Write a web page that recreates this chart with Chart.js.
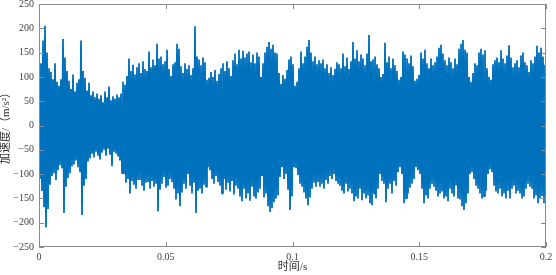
<!DOCTYPE html>
<html>
<head>
<meta charset="utf-8">
<script src="https://cdn.jsdelivr.net/npm/chart.js@4.4.1/dist/chart.umd.min.js"></script>
<style>
  html, body { margin: 0; padding: 0; background: #fff; }
  #wrap { width: 556px; height: 275px; }
</style>
</head>
<body>
<div id="wrap"><canvas id="chart"></canvas></div>
<script>
// upward peaks of the acceleration trace (m/s^2)
const upperPeaks = [
  105, 128, 175, 205, 150, 118, 110, 95, 128, 90,
  82, 95, 178, 140, 112, 92, 75, 105, 70, 88,
  95, 175, 112, 98, 72, 88, 62, 70, 58, 66,
  55, 62, 48, 70, 58, 80, 52, 60, 55, 64,
  58, 66, 90, 84, 102, 138, 112, 125, 105, 120,
  128, 108, 132, 116, 112, 152, 120, 136, 124, 168,
  138, 142, 126, 132, 156, 116, 102, 126, 130, 168,
  158, 122, 108, 128, 116, 124, 104, 118, 204, 142,
  136, 124, 140, 130, 94, 98, 110, 100, 114, 92,
  106, 118, 128, 112, 132, 118, 102, 134, 148, 126,
  156, 138, 154, 140, 148, 152, 130, 146, 128, 150,
  142, 100, 128, 150, 162, 172, 158, 166, 150, 148,
  108, 86, 104, 96, 114, 136, 142, 126, 82, 90,
  118, 152, 128, 142, 162, 176, 150, 132, 142, 126,
  134, 128, 136, 118, 126, 108, 120, 104, 116, 130,
  126, 118, 148, 122, 140, 116, 132, 172, 138, 155,
  132, 146, 138, 124, 148, 186, 132, 136, 142, 126,
  118, 100, 106, 170, 130, 142, 118, 138, 124, 112,
  94, 100, 152, 146, 138, 128, 144, 122, 92, 96,
  104, 150, 138, 156, 128, 118, 138, 124, 130, 142,
  160, 166, 148, 134, 124, 140, 130, 118, 138, 126,
  158, 168, 176, 156, 150, 100, 90, 108, 128, 124,
  150, 158, 146, 155, 118, 100, 94, 126, 134, 140,
  130, 155, 138, 128, 144, 165, 140, 120, 128, 134,
  120, 144, 150, 130, 124, 110, 134, 128, 142, 164,
  150, 160, 142, 125
];

// downward peaks, one after each upward peak
const lowerPeaks = [
  -110, -135, -168, -210, -172, -122, -104, -98, -112, -92,
  -82, -88, -180, -126, -108, -98, -84, -80, -72, -86,
  -96, -184, -124, -110, -74, -68, -58, -66, -54, -62,
  -70, -56, -50, -62, -48, -60, -84, -54, -58, -64,
  -72, -98, -100, -118, -110, -140, -114, -122, -130, -112,
  -112, -124, -134, -118, -116, -130, -114, -126, -120, -177,
  -132, -120, -106, -128, -124, -110, -116, -130, -152, -140,
  -166, -138, -120, -130, -100, -124, -140, -118, -180, -134,
  -130, -140, -122, -126, -86, -92, -110, -120, -104, -116,
  -124, -140, -110, -132, -118, -136, -114, -142, -124, -130,
  -146, -156, -130, -150, -140, -155, -126, -146, -150, -138,
  -130, -104, -148, -140, -166, -178, -170, -158, -150, -144,
  -106, -86, -110, -100, -132, -174, -146, -86, -88, -102,
  -120, -126, -138, -150, -164, -148, -130, -118, -126, -116,
  -126, -120, -130, -112, -120, -104, -110, -100, -114, -120,
  -124, -134, -140, -120, -136, -130, -140, -156, -146, -150,
  -130, -154, -140, -150, -144, -160, -164, -140, -150, -130,
  -100, -114, -120, -158, -130, -120, -140, -114, -124, -96,
  -86, -100, -160, -150, -140, -128, -120, -110, -86, -92,
  -100, -130, -160, -144, -150, -130, -120, -126, -134, -146,
  -140, -136, -150, -146, -156, -130, -140, -146, -124, -150,
  -152, -166, -174, -160, -140, -100, -96, -110, -124, -130,
  -140, -150, -146, -134, -100, -90, -96, -124, -136, -140,
  -130, -146, -140, -150, -134, -150, -130, -124, -140, -134,
  -140, -150, -146, -130, -120, -126, -130, -150, -144, -160,
  -150, -145, -160, -130
];

const duration = 0.2; // s
const xTickLabels = ['0', '0.05', '0.1', '0.15', '0.2'];
const yTickLabels = ['\u2212250', '\u2212200', '\u2212150', '\u2212100', '\u221250', '0', '50', '100', '150', '200', '250'];

// interleave up/down peaks on an even time grid
const sampleStep = duration / (upperPeaks.length + lowerPeaks.length - 1);
const points = [];
upperPeaks.forEach((v, k) => {
  points.push({ x: 2 * k * sampleStep, y: v });
  if (k < lowerPeaks.length) points.push({ x: (2 * k + 1) * sampleStep, y: lowerPeaks[k] });
});

// MATLAB-like box with inward ticks on all four sides
const boxPlugin = {
  id: 'box',
  afterDatasetsDraw(chart) {
    const { ctx, chartArea: { left, right, top, bottom }, scales: { x, y } } = chart;
    ctx.save();
    ctx.strokeStyle = '#8a8a8a';
    ctx.lineWidth = 1;
    ctx.strokeRect(left + 0.5, top + 0.5, right - left - 1, bottom - top - 1);
    ctx.beginPath();
    x.ticks.forEach(t => {
      const px = Math.round(x.getPixelForValue(t.value)) + 0.5;
      ctx.moveTo(px, bottom); ctx.lineTo(px, bottom - 5);
      ctx.moveTo(px, top); ctx.lineTo(px, top + 5);
    });
    y.ticks.forEach(t => {
      const py = Math.round(y.getPixelForValue(t.value)) + 0.5;
      ctx.moveTo(left, py); ctx.lineTo(left + 5, py);
      ctx.moveTo(right, py); ctx.lineTo(right - 5, py);
    });
    ctx.stroke();
    ctx.restore();
  }
};

const tickFont = { family: '"Liberation Serif", "DejaVu Serif", serif', size: 10 };
const titleFont = { family: '"Liberation Serif", "Noto Sans CJK SC", serif', size: 11 };

new Chart(document.getElementById('chart'), {
  type: 'line',
  data: {
    datasets: [{
      data: points,
      borderColor: '#0072BD',
      borderWidth: 1.8,
      borderJoinStyle: 'bevel',
      pointRadius: 0,
      tension: 0,
      fill: false
    }]
  },
  options: {
    responsive: true,
    maintainAspectRatio: false,
    animation: false,
    events: [],
    parsing: false,
    normalized: true,
    layout: { padding: { top: 4, right: 10, left: 0, bottom: 0 } },
    plugins: { legend: { display: false }, tooltip: { enabled: false } },
    scales: {
      x: {
        type: 'linear',
        min: 0,
        max: duration,
        grid: { display: false, drawTicks: false },
        border: { display: false },
        ticks: {
          stepSize: 0.05,
          color: '#404040',
          font: tickFont,
          padding: 4,
          maxRotation: 0,
          callback: (v, i) => xTickLabels[i]
        },
        title: {
          display: true,
          text: '时间/s',
          color: '#303030',
          font: titleFont,
          padding: { top: 0, bottom: 1 }
        },
        afterFit: s => { s.height = 28; s.paddingLeft = 0; s.paddingRight = 0; }
      },
      y: {
        min: -250,
        max: 250,
        grid: { display: false, drawTicks: false },
        border: { display: false },
        ticks: {
          stepSize: 50,
          color: '#404040',
          font: tickFont,
          padding: 5,
          callback: (v, i) => yTickLabels[i]
        },
        title: {
          display: true,
          text: '加速度/（m/s²）',
          color: '#303030',
          font: titleFont,
          padding: { top: 0, bottom: 0 }
        },
        afterFit: s => { s.width = 39; s.paddingTop = 0; s.paddingBottom = 0; }
      }
    }
  },
  plugins: [boxPlugin]
});
</script>
</body>
</html>
